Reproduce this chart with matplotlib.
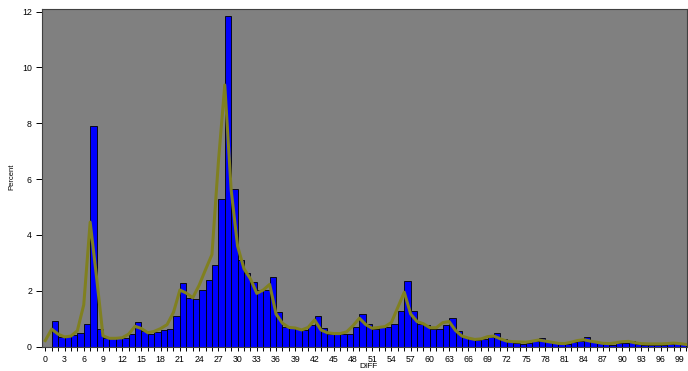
import matplotlib
matplotlib.use('Agg')
import matplotlib.pyplot as plt
from matplotlib.ticker import MultipleLocator

# ── Data ────────────────────────────────────────────────────────────────
diff = list(range(1, 100))
percent = [0.92, 0.35, 0.37, 0.42, 0.49, 0.83, 7.9, 0.62, 0.31, 0.31,
           0.32, 0.32, 0.45, 0.9, 0.57, 0.44, 0.52, 0.61, 0.63, 1.1,
           2.27, 1.75, 1.69, 2.03, 2.39, 2.94, 5.3, 11.85, 5.64, 3.11,
           2.63, 2.3, 2.03, 2.03, 2.48, 1.25, 0.72, 0.68, 0.64, 0.58,
           0.76, 1.11, 0.68, 0.44, 0.44, 0.44, 0.46, 0.69, 1.16, 0.8,
           0.63, 0.69, 0.71, 0.8, 1.27, 2.35, 1.29, 0.82, 0.76, 0.63,
           0.65, 0.79, 1.03, 0.56, 0.33, 0.3, 0.25, 0.26, 0.35, 0.5,
           0.29, 0.22, 0.14, 0.11, 0.13, 0.19, 0.31, 0.19, 0.12, 0.08,
           0.08, 0.17, 0.22, 0.34, 0.2, 0.13, 0.1, 0.07, 0.12, 0.14,
           0.22, 0.11, 0.07, 0.06, 0.06, 0.07, 0.08, 0.13, 0.1]

# smoothed curve (one value per integer DIFF 0..100)
curve_x = list(range(0, 101))
curve = [0.22, 0.63, 0.45, 0.35, 0.38, 0.57, 1.5, 4.46, 2.49, 0.39,
         0.3, 0.3, 0.32, 0.45, 0.73, 0.65, 0.5, 0.55, 0.65, 0.79,
         1.23, 2.03, 1.92, 1.75, 2.2, 2.76, 3.3, 6.6, 9.37, 5.6,
         3.6, 2.79, 2.43, 1.91, 2.03, 2.23, 1.17, 0.84, 0.69, 0.67,
         0.6, 0.69, 0.96, 0.6, 0.5, 0.47, 0.47, 0.53, 0.75, 1.02,
         0.79, 0.66, 0.69, 0.72, 0.87, 1.41, 1.95, 1.17, 0.9, 0.82,
         0.68, 0.68, 0.86, 0.9, 0.58, 0.38, 0.31, 0.26, 0.28, 0.36,
         0.38, 0.28, 0.2, 0.18, 0.17, 0.16, 0.2, 0.24, 0.2, 0.16,
         0.12, 0.11, 0.16, 0.22, 0.25, 0.2, 0.16, 0.12, 0.11, 0.14,
         0.18, 0.19, 0.14, 0.11, 0.1, 0.1, 0.1, 0.11, 0.13, 0.11,
         0.08]

plt.rcParams['font.family'] = ['Liberation Sans', 'DejaVu Sans']

fig = plt.figure(figsize=(6.88, 3.71), dpi=100)
ax = fig.add_axes([0.0606, 0.0655, 0.9379, 0.9095])
ax.set_facecolor('#808080')

ax.bar(diff, percent, width=1, align='edge', color='#0000ff',
       edgecolor='black', linewidth=0.6, zorder=2)
ax.plot(curve_x, curve, color='#808020', linewidth=2.2, zorder=3)

ax.set_xlim(-0.56, 100.1)
ax.set_ylim(0, 12.08)

ax.xaxis.set_major_locator(MultipleLocator(3))
ax.xaxis.set_minor_locator(MultipleLocator(1))
ax.yaxis.set_major_locator(MultipleLocator(2))
ax.tick_params(axis='x', which='both', length=3.2, width=0.7, pad=3,
               labelsize=6.3)
ax.tick_params(axis='y', length=4, width=0.7, pad=3, labelsize=6.3)

for side in ['left', 'top', 'bottom', 'right']:
    ax.spines[side].set_color('#404040')
    ax.spines[side].set_linewidth(0.8)

ax.set_ylabel('Percent', fontsize=5.5)
ax.yaxis.set_label_coords(-0.041, 0.504)
ax.set_xlabel('DIFF', fontsize=6)
ax.xaxis.set_label_coords(0.507, -0.049)

fig.savefig('out.png', dpi=100)
